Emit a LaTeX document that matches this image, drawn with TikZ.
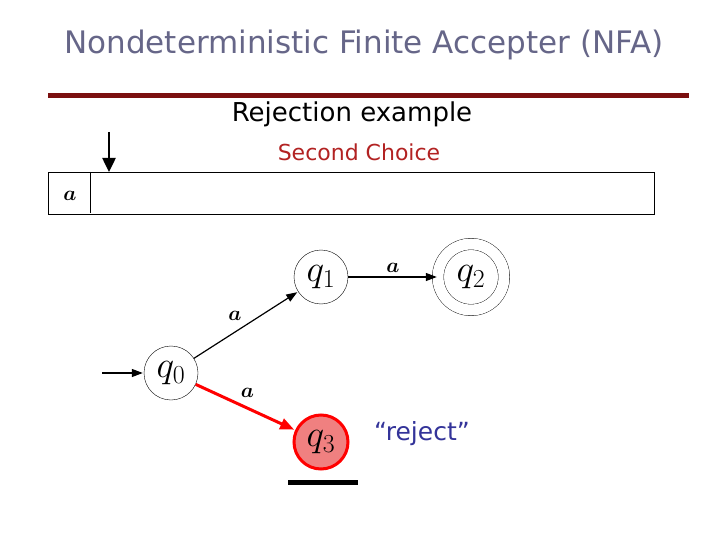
\documentclass[tikz,border=0pt]{standalone}
\usepackage{fontspec}
\setsansfont{DejaVu Sans}
\usetikzlibrary{arrows.meta,automata,positioning}

\definecolor{titlegray}{RGB}{102,102,136}
\definecolor{barred}{RGB}{123,16,16}
\definecolor{choicered}{RGB}{178,34,34}
\definecolor{rejblue}{RGB}{51,51,153}
\definecolor{deadfill}{RGB}{240,128,128}
\newcommand{\stname}[1]{\scalebox{1.5}{$q_{#1}$}}

\begin{document}
\begin{tikzpicture}[x=1pt,y=-1pt,shorten >=1pt,node distance=150pt,on grid,auto,>={Triangle[length=11pt,width=8pt]}]
       \tikzstyle{every state}=[draw=black,thin,minimum size=54pt,inner sep=0pt,font=\fontsize{24}{24}\selectfont]
       \tikzstyle{lbl}=[font=\fontsize{21}{21}\selectfont\boldmath,inner sep=4pt]
       \useasboundingbox (0,0) rectangle (720,540);

       % title and heading
       \node[font=\sffamily\fontsize{31}{31}\selectfont,text=titlegray] (title) at (364,45) {Nondeterministic Finite Accepter (NFA)};
       \draw[barred,line width=5pt] (48,96) -- (690,96);
       \node[font=\sffamily\fontsize{26}{26}\selectfont] (rej) at (352,114) {Rejection example};
       \node[font=\sffamily\fontsize{22}{22}\selectfont,text=choicered] (choice) at (359,152) {Second Choice};

       % input tape
       \node[draw,minimum width=606pt,minimum height=42pt,anchor=north west,inner sep=0pt] (tape) at (48,172) {};
       \draw (90,172) -- (90,214);
       \node[lbl] (sym) at (70,196) {$a$};
       \coordinate (head) at (109,132);
       \draw[->,>={Triangle[length=14pt,width=13pt]},line width=2.5pt,shorten >=0pt] (head) -- (109,172);

       % automaton
       \node[state] (q_0) at (171,373) {\stname{0}};
       \node[state] (q_1) [above right=96pt and 150pt of q_0] {\stname{1}};
       \node[state,double,double distance=11pt,minimum size=66pt] (q_2) [right of=q_1] {\stname{2}};
       \node[state,draw=red,line width=3pt,fill=deadfill] (q_3) [below=165pt of q_1] {\stname{3}};
       \coordinate (start) at (102,373);

       \path[->,line width=1.2pt]
       (start) edge [] (q_0)
       (q_0) edge [] node [lbl] {$a$} (q_1)
       (q_1) edge [] node [lbl] {$a$} (q_2)
       (q_0) edge [red,line width=3pt,>={Triangle[length=14pt,width=11pt]}] node [lbl,text=black,pos=0.4] {$a$} (q_3);

       \node[font=\sffamily\fontsize{25}{25}\selectfont,text=rejblue] (reject) at (422,434) {``reject''};
       \draw[line width=5pt] (288,482) -- (359,482);
     \end{tikzpicture}
\end{document}
